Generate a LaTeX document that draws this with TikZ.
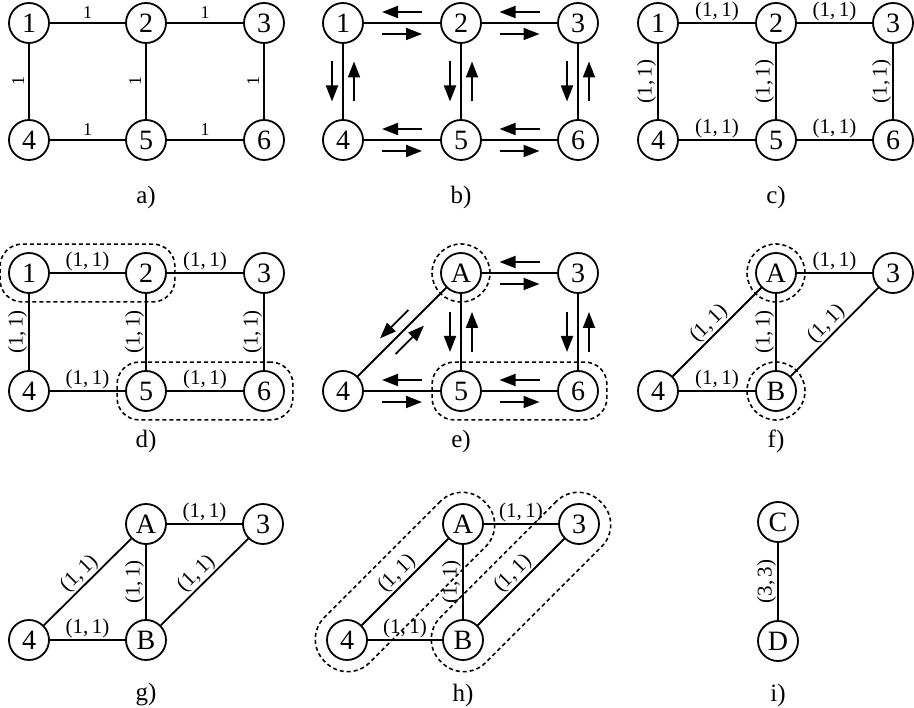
\documentclass[tikz,border=0pt]{standalone}
\usepackage{fontspec}
\setmainfont{Liberation Serif}
\usetikzlibrary{arrows.meta,calc,fit}
\tikzset{
  vtx/.style={circle, draw, line width=1.8pt, minimum size=40pt, inner sep=0pt, font=\fontsize{28}{28}\selectfont},
  lnk/.style={line width=1.8pt},
  wlab/.style={midway, above, sloped, inner sep=1pt, font=\fontsize{21}{21}\selectfont},
  wone/.style={midway, above, sloped, inner sep=4pt, font=\fontsize{18}{18}\selectfont},
  farr/.style={line width=1.8pt, -{Triangle[length=16pt,width=12pt]}},
  grp/.style={draw, line width=1.6pt, dash pattern=on 4pt off 3pt},
  capt/.style={font=\fontsize{25}{25}\selectfont, inner sep=0pt},
}
\newcommand\flowarr[2]{%
  \coordinate (fM) at ($(#1)!0.5!(#2)$);
  \coordinate (fS) at ($(fM)!20pt!(#1)$);
  \coordinate (fE) at ($(fM)!20pt!(#2)$);
  \draw[farr] ($(fS)!11pt!-90:(fM)$) -- ($(fE)!11pt!90:(fM)$);
}
\newcommand\flowpair[2]{\flowarr{#1}{#2}\flowarr{#2}{#1}}
\begin{document}
\begin{tikzpicture}[x=1pt,y=1pt]
\useasboundingbox (0,0) rectangle (914,-708);
% ---------- a)
\node[vtx] (a1) at (29,-23) {1};
\node[vtx] (a2) at (146,-23) {2};
\node[vtx] (a3) at (264,-23) {3};
\node[vtx] (a4) at (29,-140) {4};
\node[vtx] (a5) at (146,-140) {5};
\node[vtx] (a6) at (264,-140) {6};
\draw[lnk] (a1) -- node[wone]{1} (a2);
\draw[lnk] (a2) -- node[wone]{1} (a3);
\draw[lnk] (a4) -- node[wone]{1} (a5);
\draw[lnk] (a5) -- node[wone]{1} (a6);
\draw[lnk] (a4) -- node[wone]{1} (a1);
\draw[lnk] (a5) -- node[wone]{1} (a2);
\draw[lnk] (a6) -- node[wone]{1} (a3);
\node[capt] (ca) at (146,-197) {a)};
% ---------- b)
\node[vtx] (b1) at (343,-23) {1};
\node[vtx] (b2) at (461,-23) {2};
\node[vtx] (b3) at (578,-23) {3};
\node[vtx] (b4) at (343,-140) {4};
\node[vtx] (b5) at (461,-140) {5};
\node[vtx] (b6) at (578,-140) {6};
\draw[lnk] (b1) -- (b2);
\draw[lnk] (b2) -- (b3);
\draw[lnk] (b4) -- (b5);
\draw[lnk] (b5) -- (b6);
\draw[lnk] (b1) -- (b4);
\draw[lnk] (b2) -- (b5);
\draw[lnk] (b3) -- (b6);
\flowpair{b1}{b2}
\flowpair{b2}{b3}
\flowpair{b4}{b5}
\flowpair{b5}{b6}
\flowpair{b1}{b4}
\flowpair{b2}{b5}
\flowpair{b3}{b6}
\node[capt] (cb) at (461,-197) {b)};
% ---------- c)
\node[vtx] (c1) at (658,-23) {1};
\node[vtx] (c2) at (776,-23) {2};
\node[vtx] (c3) at (893,-23) {3};
\node[vtx] (c4) at (658,-140) {4};
\node[vtx] (c5) at (776,-140) {5};
\node[vtx] (c6) at (893,-140) {6};
\draw[lnk] (c1) -- node[wlab]{(1,\,1)} (c2);
\draw[lnk] (c2) -- node[wlab]{(1,\,1)} (c3);
\draw[lnk] (c4) -- node[wlab]{(1,\,1)} (c5);
\draw[lnk] (c5) -- node[wlab]{(1,\,1)} (c6);
\draw[lnk] (c4) -- node[wlab]{(1,\,1)} (c1);
\draw[lnk] (c5) -- node[wlab]{(1,\,1)} (c2);
\draw[lnk] (c6) -- node[wlab]{(1,\,1)} (c3);
\node[capt] (cc) at (776,-197) {c)};
% ---------- d)
\node[vtx] (d1) at (29,-273) {1};
\node[vtx] (d2) at (146,-273) {2};
\node[vtx] (d3) at (264,-273) {3};
\node[vtx] (d4) at (29,-391) {4};
\node[vtx] (d5) at (146,-391) {5};
\node[vtx] (d6) at (264,-391) {6};
\draw[lnk] (d1) -- node[wlab]{(1,\,1)} (d2);
\draw[lnk] (d2) -- node[wlab]{(1,\,1)} (d3);
\draw[lnk] (d4) -- node[wlab]{(1,\,1)} (d5);
\draw[lnk] (d5) -- node[wlab]{(1,\,1)} (d6);
\draw[lnk] (d4) -- node[wlab]{(1,\,1)} (d1);
\draw[lnk] (d5) -- node[wlab]{(1,\,1)} (d2);
\draw[lnk] (d6) -- node[wlab]{(1,\,1)} (d3);
\node[grp, rounded corners=22pt, inner sep=8pt, fit=(d1)(d2)] (gd1) {};
\node[grp, rounded corners=22pt, inner sep=8pt, fit=(d5)(d6)] (gd2) {};
\node[capt] (cd) at (146,-441) {d)};
% ---------- e)
\node[vtx] (eA) at (461,-273) {A};
\node[vtx] (e3) at (578,-273) {3};
\node[vtx] (e4) at (343,-391) {4};
\node[vtx] (e5) at (461,-391) {5};
\node[vtx] (e6) at (578,-391) {6};
\draw[lnk] (eA) -- (e3);
\draw[lnk] (eA) -- (e5);
\draw[lnk] (eA) -- (e4);
\draw[lnk] (e4) -- (e5);
\draw[lnk] (e5) -- (e6);
\draw[lnk] (e3) -- (e6);
\flowpair{eA}{e3}
\flowpair{eA}{e5}
\flowpair{eA}{e4}
\flowpair{e4}{e5}
\flowpair{e5}{e6}
\flowpair{e3}{e6}
\node[grp, circle, minimum size=58pt, inner sep=0pt] (ge1) at (eA) {};
\node[grp, rounded corners=22pt, inner sep=8pt, fit=(e5)(e6)] (ge2) {};
\node[capt] (ce) at (461,-441) {e)};
% ---------- f)
\node[vtx] (fA) at (776,-273) {A};
\node[vtx] (f3) at (893,-273) {3};
\node[vtx] (f4) at (658,-391) {4};
\node[vtx] (fB) at (776,-391) {B};
\draw[lnk] (fA) -- node[wlab]{(1,\,1)} (f3);
\draw[lnk] (f4) -- node[wlab]{(1,\,1)} (fA);
\draw[lnk] (fB) -- node[wlab]{(1,\,1)} (fA);
\draw[lnk] (fB) -- node[wlab]{(1,\,1)} (f3);
\draw[lnk] (f4) -- node[wlab]{(1,\,1)} (fB);
\node[grp, circle, minimum size=58pt, inner sep=0pt] (gf1) at (fA) {};
\node[grp, circle, minimum size=58pt, inner sep=0pt] (gf2) at (fB) {};
\node[capt] (cf) at (776,-441) {f)};
% ---------- g)
\node[vtx] (gA) at (146,-524) {A};
\node[vtx] (g3) at (263,-524) {3};
\node[vtx] (g4) at (29,-640) {4};
\node[vtx] (gB) at (146,-640) {B};
\draw[lnk] (gA) -- node[wlab]{(1,\,1)} (g3);
\draw[lnk] (g4) -- node[wlab]{(1,\,1)} (gA);
\draw[lnk] (gB) -- node[wlab]{(1,\,1)} (gA);
\draw[lnk] (gB) -- node[wlab]{(1,\,1)} (g3);
\draw[lnk] (g4) -- node[wlab]{(1,\,1)} (gB);
\node[capt] (cg) at (146,-695) {g)};
% ---------- h)
\node[vtx] (hA) at (463,-524) {A};
\node[vtx] (h3) at (579,-524) {3};
\node[vtx] (h4) at (347,-640) {4};
\node[vtx] (hB) at (463,-640) {B};
\draw[lnk] (hA) -- node[wlab]{(1,\,1)} (h3);
\draw[lnk] (h4) -- node[wlab]{(1,\,1)} (hA);
\draw[lnk] (hB) -- node[wlab]{(1,\,1)} (hA);
\draw[lnk] (hB) -- node[wlab]{(1,\,1)} (h3);
\draw[lnk] (h4) -- node[wlab]{(1,\,1)} (hB);
\path (h4) -- node[grp, sloped, rectangle, rounded corners=31pt, minimum width=226pt, minimum height=64pt, inner sep=0pt] (gh1) {} (hA);
\path (hB) -- node[grp, sloped, rectangle, rounded corners=31pt, minimum width=226pt, minimum height=64pt, inner sep=0pt] (gh2) {} (h3);
\node[capt] (ch) at (463,-695) {h)};
% ---------- i)
\node[vtx] (iC) at (778,-522) {C};
\node[vtx] (iD) at (778,-641) {D};
\draw[lnk] (iD) -- node[wlab]{(3,\,3)} (iC);
\node[capt] (ci) at (778,-695) {i)};
\end{tikzpicture}
\end{document}
